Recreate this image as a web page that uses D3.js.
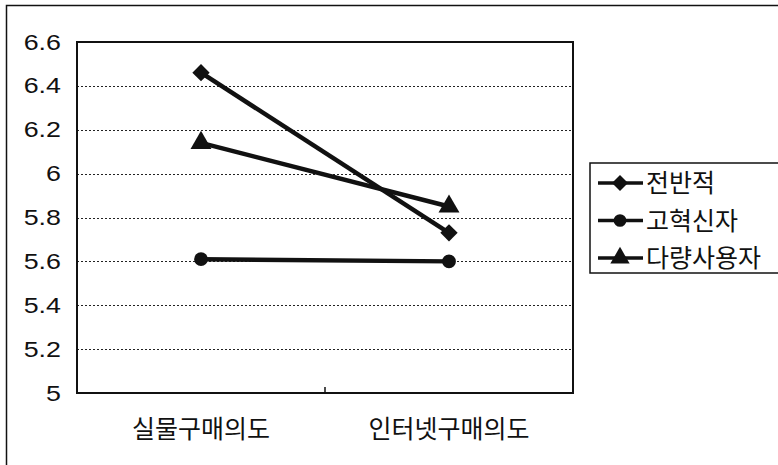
<!DOCTYPE html>
<html>
<head>
<meta charset="utf-8">
<script src="https://cdn.jsdelivr.net/npm/d3@7/dist/d3.min.js"></script>
<style>
  html, body { margin: 0; padding: 0; background: #fff; }
  svg { display: block; }
</style>
</head>
<body>
<svg id="chart" width="778" height="465"></svg>
<script>
// Purchase intention by group: offline vs. internet
const categories = ["실물구매의도", "인터넷구매의도"];
const seriesNames = ["전반적", "고혁신자", "다량사용자"];
const overall = [6.46, 5.73];
const innovators = [5.61, 5.60];
const heavyUsers = [6.14, 5.85];
const yTicks = [5, 5.2, 5.4, 5.6, 5.8, 6, 6.2, 6.4, 6.6];
const yTickLabels = ["5", "5.2", "5.4", "5.6", "5.8", "6", "6.2", "6.4", "6.6"];

// Square turned 45 degrees
const symbolRhombus = {
  draw(context, size) {
    const r = Math.sqrt(size) / Math.SQRT2;
    context.moveTo(0, -r);
    context.lineTo(r, 0);
    context.lineTo(0, r);
    context.lineTo(-r, 0);
    context.closePath();
  }
};

const series = [
  { name: seriesNames[0], values: overall, shape: symbolRhombus, size: 150 },
  { name: seriesNames[1], values: innovators, shape: d3.symbolCircle, size: 150 },
  { name: seriesNames[2], values: heavyUsers, shape: d3.symbolTriangle, size: 190 }
];

const svg = d3.select("#chart");
const numFont = "'Liberation Sans', Arial, sans-serif";
const krFont = "'Noto Sans CJK KR', 'Noto Sans', sans-serif";

// Outer chart frame (only top/left edges fall inside the canvas)
svg.append("rect")
  .attr("x", 6.5).attr("y", 5.5)
  .attr("width", 800).attr("height", 500)
  .attr("fill", "none").attr("stroke", "#111").attr("stroke-width", 1.5);

const plot = { left: 77, top: 42, right: 573, bottom: 393 };

const x = d3.scaleBand().domain(categories).range([plot.left, plot.right]);
const y = d3.scaleLinear().domain([5, 6.6]).range([plot.bottom, plot.top]);

// Dotted gridlines
svg.append("g")
  .selectAll("line")
  .data(yTicks.filter(t => t > 5 && t < 6.6))
  .join("line")
  .attr("x1", plot.left).attr("x2", plot.right)
  .attr("y1", d => Math.round(y(d)) + 0.5).attr("y2", d => Math.round(y(d)) + 0.5)
  .attr("stroke", "#222").attr("stroke-width", 1)
  .attr("stroke-dasharray", "2,2");

// Plot frame
svg.append("rect")
  .attr("x", plot.left).attr("y", plot.top)
  .attr("width", plot.right - plot.left).attr("height", plot.bottom - plot.top)
  .attr("fill", "none").attr("stroke", "#111").attr("stroke-width", 2);

// Y axis labels (wide-set numerals)
const yAxis = d3.axisLeft(y)
  .tickValues(yTicks)
  .tickFormat((d, i) => yTickLabels[i])
  .tickSize(0)
  .tickPadding(0);
const yg = svg.append("g").attr("transform", `translate(${plot.left - 16},0)`).call(yAxis);
yg.select(".domain").remove();
yg.selectAll("text")
  .attr("x", 0)
  .attr("font-family", numFont).attr("font-size", 22).attr("fill", "#111")
  .attr("transform", "scale(1.22,1)");

// X axis: category labels and a tick between categories
const xAxis = d3.axisBottom(x).tickSize(0).tickPadding(27);
const xg = svg.append("g").attr("transform", `translate(0,${plot.bottom})`).call(xAxis);
xg.select(".domain").remove();
xg.selectAll("text")
  .attr("font-family", krFont).attr("font-size", 25).attr("fill", "#111");
svg.append("line")
  .attr("x1", x(categories[1])).attr("x2", x(categories[1]))
  .attr("y1", plot.bottom).attr("y2", plot.bottom - 6)
  .attr("stroke", "#111").attr("stroke-width", 1.5);

const cx = c => x(c) + x.bandwidth() / 2;
const line = d3.line().x((d, i) => cx(categories[i])).y(d => y(d));

series.forEach(s => {
  svg.append("path")
    .datum(s.values)
    .attr("d", line)
    .attr("fill", "none")
    .attr("stroke", "#111")
    .attr("stroke-width", 4.5);
  svg.append("g")
    .selectAll("path")
    .data(s.values)
    .join("path")
    .attr("transform", (d, i) => `translate(${cx(categories[i])},${y(d)})`)
    .attr("d", d3.symbol().type(s.shape).size(s.size))
    .attr("fill", "#111");
});

// Legend
const legend = svg.append("g");
legend.append("rect")
  .attr("x", 590).attr("y", 163)
  .attr("width", 200).attr("height", 110)
  .attr("fill", "#fff").attr("stroke", "#111").attr("stroke-width", 1.5);
series.forEach((s, i) => {
  const ly = 183 + i * 37.5;
  legend.append("line")
    .attr("x1", 598).attr("x2", 643)
    .attr("y1", ly).attr("y2", ly)
    .attr("stroke", "#111").attr("stroke-width", 3.5);
  legend.append("path")
    .attr("transform", `translate(620,${ly})`)
    .attr("d", d3.symbol().type(s.shape).size(s.size * 0.85))
    .attr("fill", "#111");
  legend.append("text")
    .attr("x", 646).attr("y", ly)
    .attr("dy", "0.36em")
    .attr("font-family", krFont).attr("font-size", 25).attr("fill", "#111")
    .text(s.name);
});
</script>
</body>
</html>
